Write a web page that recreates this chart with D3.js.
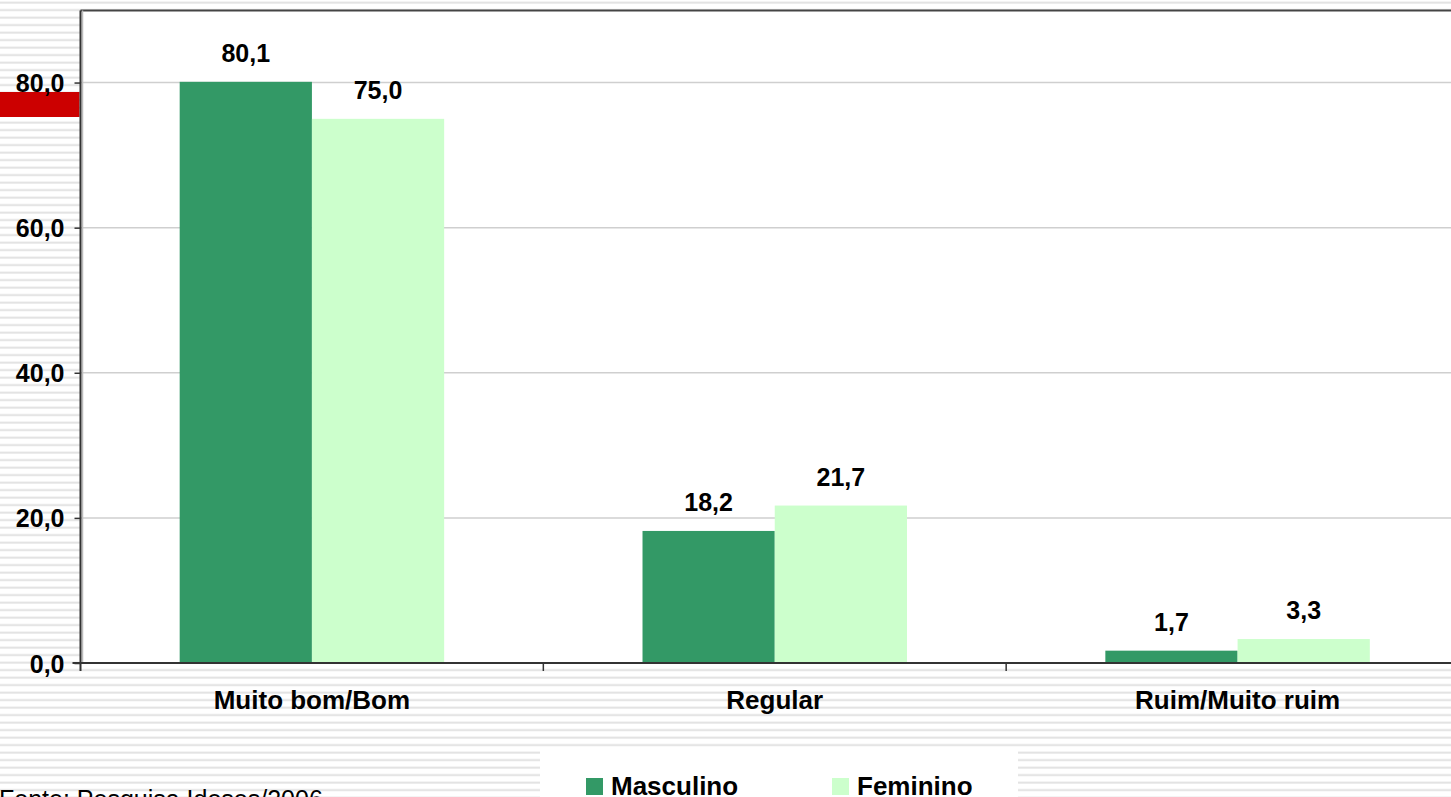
<!DOCTYPE html>
<html>
<head>
<meta charset="utf-8">
<script src="https://cdn.jsdelivr.net/npm/d3@7"></script>
<style>
  html, body { margin: 0; padding: 0; background: #fff; overflow: hidden; }
  svg { display: block; font-family: "Liberation Sans", Arial, sans-serif; }
</style>
</head>
<body>
<svg id="chart" width="1451" height="797"></svg>
<script>
const categories = ["Muito bom/Bom", "Regular", "Ruim/Muito ruim"];
const seriesNames = ["Masculino", "Feminino"];
const masculino = [80.1, 18.2, 1.7];
const feminino = [75.0, 21.7, 3.3];
const valueLabels = [["80,1", "18,2", "1,7"], ["75,0", "21,7", "3,3"]];
const yTicks = [0, 20, 40, 60, 80];
const yTickLabels = ["0,0", "20,0", "40,0", "60,0", "80,0"];
const colors = ["#339966", "#CCFFCC"];
const sourceText = "Fonte: Pesquisa Idosos/2006";

const W = 1451, H = 797;
const svg = d3.select("#chart");
const defs = svg.append("defs");
const pat = defs.append("pattern").attr("id", "stripes")
  .attr("patternUnits", "userSpaceOnUse").attr("width", 20).attr("height", 7.5)
  .attr("y", 0);
pat.append("rect").attr("width", 20).attr("height", 7.5).attr("fill", "#ffffff");
pat.append("rect").attr("y", 1.6).attr("width", 20).attr("height", 2).attr("fill", "#e2e2e2");

svg.append("rect").attr("width", W).attr("height", H).attr("fill", "url(#stripes)");

const plot = { left: 80.5, top: 10.5, right: 1469, bottom: 663 };

const x0 = d3.scaleBand().domain(categories).range([plot.left, plot.right]).paddingInner(0).paddingOuter(0);
const x1 = d3.scaleBand().domain(seriesNames).range([0, x0.bandwidth()]).paddingInner(0).paddingOuter(0.75);
const y = d3.scaleLinear().domain([0, 90]).range([plot.bottom, 10]);

// plot area
svg.append("rect").attr("x", plot.left).attr("y", plot.top)
  .attr("width", plot.right - plot.left).attr("height", plot.bottom - plot.top)
  .attr("fill", "#fff");

// gridlines
svg.append("g").selectAll("line").data(yTicks.filter(d => d > 0)).join("line")
  .attr("x1", plot.left).attr("x2", plot.right)
  .attr("y1", d => y(d)).attr("y2", d => y(d))
  .attr("stroke", "#cfcfcf").attr("stroke-width", 1.5);

// red decoration bar at left
svg.append("rect").attr("x", 0).attr("y", 92).attr("width", plot.left - 1).attr("height", 25).attr("fill", "#CC0000");

// bars
const seriesVals = [masculino, feminino];
const barG = svg.append("g");
seriesVals.forEach((vals, si) => {
  barG.selectAll(null).data(vals).join("rect")
    .attr("x", (d, i) => x0(categories[i]) + x1(seriesNames[si]))
    .attr("y", d => y(d))
    .attr("width", x1.bandwidth())
    .attr("height", d => y(0) - y(d))
    .attr("fill", colors[si]);
  barG.selectAll(null).data(vals).join("text")
    .attr("x", (d, i) => x0(categories[i]) + x1(seriesNames[si]) + x1.bandwidth() / 2)
    .attr("y", d => y(d) - 20)
    .attr("text-anchor", "middle")
    .attr("font-weight", "bold").attr("font-size", 25).attr("fill", "#000")
    .text((d, i) => valueLabels[si][i]);
});

// plot border top & left
svg.append("line").attr("x1", plot.left).attr("x2", plot.right).attr("y1", plot.top).attr("y2", plot.top)
  .attr("stroke", "#444").attr("stroke-width", 2);
svg.append("line").attr("x1", plot.left + 2).attr("x2", plot.left + 2).attr("y1", plot.top).attr("y2", plot.bottom)
  .attr("stroke", "#bbb").attr("stroke-width", 1.5);

// y axis
const yAxis = d3.axisLeft(y).tickValues(yTicks).tickSize(6).tickPadding(10)
  .tickFormat((d, i) => yTickLabels[i]);
const gy = svg.append("g").attr("transform", `translate(${plot.left},0)`).call(yAxis);
gy.select(".domain").attr("stroke", "#333").attr("stroke-width", 2).attr("d", `M0,${plot.top}V${plot.bottom + 8}`);
gy.selectAll(".tick line").attr("stroke", "#333").attr("stroke-width", 1.5);
gy.selectAll("text").attr("font-weight", "bold").attr("font-size", 25).attr("fill", "#000")
  .attr("font-family", "Liberation Sans, Arial, sans-serif").attr("dy", "0.36em");

// x axis
const xAxis = d3.axisBottom(x0).tickSize(0).tickPadding(28);
const gx = svg.append("g").attr("transform", `translate(0,${plot.bottom})`).call(xAxis);
gx.select(".domain").attr("stroke", "#333").attr("stroke-width", 2).attr("d", `M${plot.left - 8},0H${plot.right}`);
gx.selectAll("text").attr("font-weight", "bold").attr("font-size", 26).attr("fill", "#000")
  .attr("font-family", "Liberation Sans, Arial, sans-serif");
// category boundary ticks
svg.append("g").selectAll("line").data(categories.slice(1)).join("line")
  .attr("x1", d => x0(d)).attr("x2", d => x0(d))
  .attr("y1", plot.bottom).attr("y2", plot.bottom + 8)
  .attr("stroke", "#333").attr("stroke-width", 1.5);

// legend
const lg = svg.append("g");
lg.append("rect").attr("x", 540).attr("y", 747).attr("width", 478).attr("height", 60).attr("fill", "#fff");
seriesNames.forEach((name, i) => {
  const gx0 = 586 + i * 246;
  lg.append("rect").attr("x", gx0).attr("y", 778).attr("width", 17).attr("height", 17).attr("fill", colors[i]);
  lg.append("text").attr("x", gx0 + 25).attr("y", 795).attr("font-weight", "bold").attr("font-size", 26)
    .attr("fill", "#000").text(name);
});

// source
svg.append("text").attr("x", -1).attr("y", 808).attr("font-size", 25).attr("fill", "#000").text(sourceText);
</script>
</body>
</html>
